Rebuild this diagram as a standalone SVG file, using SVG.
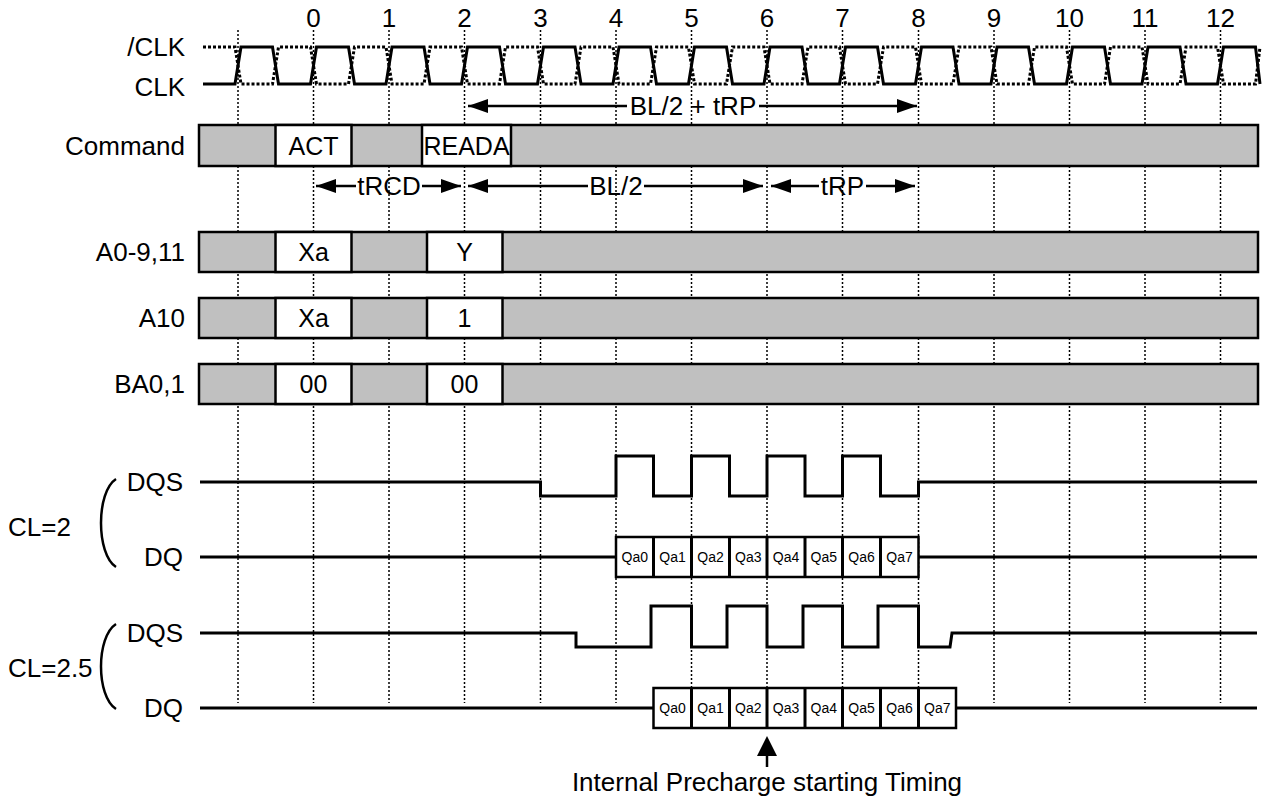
<svg xmlns="http://www.w3.org/2000/svg" width="1266" height="799" viewBox="0 0 1266 799">
<style>
text{font-family:"Liberation Sans",Arial,sans-serif;fill:#000}
.lbl{font-size:26px}
.bx{font-size:25px;text-anchor:middle}
.r{text-anchor:end}
.m{text-anchor:middle}
.q{font-size:14px;text-anchor:middle}
.grid{stroke:#000;stroke-width:1.5;stroke-dasharray:2 2;fill:none}
.wave{stroke:#000;stroke-width:3;fill:none;stroke-linejoin:miter}
.dot{stroke:#000;stroke-width:3;fill:none;stroke-dasharray:3 2}
.gray{fill:#c0c0c0;stroke:#000;stroke-width:2.5}
.wht{fill:#fff;stroke:#000;stroke-width:2.5}
.arr{stroke:#000;stroke-width:2.5;fill:none}
</style>
<defs>
<marker id="ah" viewBox="0 0 20 14" refX="20" refY="7" markerWidth="20" markerHeight="14" markerUnits="userSpaceOnUse" orient="auto-start-reverse"><path d="M0,0 L20,7 L0,14 z" fill="#000"/></marker>
</defs>
<g id="grid">
<path class="grid" d="M238,30V703 M313.5,30V703 M389,30V703 M464.5,30V703 M540.5,30V703 M616,30V703 M691.5,30V703 M767,30V703 M842.5,30V703 M918.5,30V703 M994,30V703 M1069.5,30V703 M1145,30V703 M1220.5,30V703"/>
</g>
<g id="cycle-numbers">
<text x="313.5" y="27" class="lbl m">0</text>
<text x="389" y="27" class="lbl m">1</text>
<text x="464.5" y="27" class="lbl m">2</text>
<text x="540.5" y="27" class="lbl m">3</text>
<text x="616" y="27" class="lbl m">4</text>
<text x="691.5" y="27" class="lbl m">5</text>
<text x="767" y="27" class="lbl m">6</text>
<text x="842.5" y="27" class="lbl m">7</text>
<text x="918.5" y="27" class="lbl m">8</text>
<text x="994" y="27" class="lbl m">9</text>
<text x="1069.5" y="27" class="lbl m">10</text>
<text x="1145" y="27" class="lbl m">11</text>
<text x="1220.5" y="27" class="lbl m">12</text>
</g>
<g id="clk">
<text x="185" y="56" class="lbl r">/CLK</text>
<text x="185" y="96" class="lbl r">CLK</text>
<path class="dot" d="M203,47 H235 L241,84 H272.5 L278.5,47 H310.5 L316.5,84 H348.5 L354.5,47 H386 L392,84 H424 L430,47 H461.5 L467.5,84 H499.5 L505.5,47 H537.5 L543.5,84 H575 L581,47 H613 L619,84 H650.5 L656.5,47 H688.5 L694.5,84 H726.5 L732.5,47 H764 L770,84 H802 L808,47 H839.5 L845.5,84 H877.5 L883.5,47 H915.5 L921.5,84 H953 L959,47 H991 L997,84 H1028.5 L1034.5,47 H1066.5 L1072.5,84 H1104.5 L1110.5,47 H1142 L1148,84 H1180 L1186,47 H1217.5 L1223.5,84 H1255.5 L1260,47"/>
<path class="wave" d="M203,84 H235 L241,47 H272.5 L278.5,84 H310.5 L316.5,47 H348.5 L354.5,84 H386 L392,47 H424 L430,84 H461.5 L467.5,47 H499.5 L505.5,84 H537.5 L543.5,47 H575 L581,84 H613 L619,47 H650.5 L656.5,84 H688.5 L694.5,47 H726.5 L732.5,84 H764 L770,47 H802 L808,84 H839.5 L845.5,47 H877.5 L883.5,84 H915.5 L921.5,47 H953 L959,84 H991 L997,47 H1028.5 L1034.5,84 H1066.5 L1072.5,47 H1104.5 L1110.5,84 H1142 L1148,47 H1180 L1186,84 H1217.5 L1223.5,47 H1255.5 L1260,84"/>
</g>
<g id="command">
<text x="185" y="155" class="lbl r">Command</text>
<rect class="gray" x="199" y="125" width="1059" height="41"/>
<rect class="wht" x="275.5" y="125" width="76" height="41"/>
<rect class="wht" x="422" y="125" width="89" height="41"/>
<text x="313.5" y="154.5" class="bx">ACT</text>
<text x="466.5" y="154.5" class="bx">READA</text>
</g>
<g id="a0-9-11">
<text x="185" y="261" class="lbl r">A0-9,11</text>
<rect class="gray" x="199" y="232" width="1059" height="40"/>
<rect class="wht" x="275.5" y="232" width="76" height="40"/>
<rect class="wht" x="427" y="232" width="75.5" height="40"/>
<text x="313.5" y="261" class="bx">Xa</text>
<text x="464.5" y="261" class="bx">Y</text>
</g>
<g id="a10">
<text x="185" y="327" class="lbl r">A10</text>
<rect class="gray" x="199" y="298" width="1059" height="40"/>
<rect class="wht" x="275.5" y="298" width="76" height="40"/>
<rect class="wht" x="427" y="298" width="75.5" height="40"/>
<text x="313.5" y="327" class="bx">Xa</text>
<text x="464.5" y="327" class="bx">1</text>
</g>
<g id="ba0-1">
<text x="185" y="393" class="lbl r">BA0,1</text>
<rect class="gray" x="199" y="364" width="1059" height="40"/>
<rect class="wht" x="275.5" y="364" width="76" height="40"/>
<rect class="wht" x="427" y="364" width="75.5" height="40"/>
<text x="313.5" y="393" class="bx">00</text>
<text x="464.5" y="393" class="bx">00</text>
</g>
<g id="cl2">
<text x="8" y="536" class="lbl">CL=2</text>
<path d="M116,479 C96,492 96,554 116,567" stroke="#000" stroke-width="2.5" fill="none"/>
<text x="183" y="491" class="lbl r">DQS</text>
<text x="183" y="566" class="lbl r">DQ</text>
<path class="wave" d="M200,482 H540.5 V496 H616 V456 H653.5 V496 H691.5 V456 H729.5 V496 H767 V456 H805 V496 H842.5 V456 H880.5 V496 H918.5 V482 H1257"/>
<path class="wave" d="M200,557 H616 M918.5,557 H1257"/>
<rect class="wht" x="616" y="537" width="302.5" height="40"/>
<path class="wave" d="M653.5,537V577 M691.5,537V577 M729.5,537V577 M767,537V577 M805,537V577 M842.5,537V577 M880.5,537V577"/>
<text x="634.75" y="562" class="q">Qa0</text>
<text x="672.5" y="562" class="q">Qa1</text>
<text x="710.5" y="562" class="q">Qa2</text>
<text x="748.25" y="562" class="q">Qa3</text>
<text x="786" y="562" class="q">Qa4</text>
<text x="823.75" y="562" class="q">Qa5</text>
<text x="861.5" y="562" class="q">Qa6</text>
<text x="899.5" y="562" class="q">Qa7</text>
</g>
<g id="cl25">
<text x="8" y="677" class="lbl">CL=2.5</text>
<path d="M116,624 C96,637 96,696 116,709" stroke="#000" stroke-width="2.5" fill="none"/>
<text x="183" y="642" class="lbl r">DQS</text>
<text x="183" y="717" class="lbl r">DQ</text>
<path class="wave" d="M200,633 H576 V647 H651 V606 H691.5 V647 H727 V606 H767 V647 H803 V606 H842.5 V647 H878 V606 H918.5 V647 H950 L952,633 H1257"/>
<path class="wave" d="M200,708 H653.5 M956,708 H1257"/>
<rect class="wht" x="653.5" y="688" width="302.5" height="40"/>
<path class="wave" d="M691.5,688V728 M729.5,688V728 M767,688V728 M805,688V728 M842.5,688V728 M880.5,688V728 M918.5,688V728"/>
<text x="672.5" y="713" class="q">Qa0</text>
<text x="710.5" y="713" class="q">Qa1</text>
<text x="748.25" y="713" class="q">Qa2</text>
<text x="786" y="713" class="q">Qa3</text>
<text x="823.75" y="713" class="q">Qa4</text>
<text x="861.5" y="713" class="q">Qa5</text>
<text x="899.5" y="713" class="q">Qa6</text>
<text x="937.25" y="713" class="q">Qa7</text>
</g>
<g id="connectors">
<path class="arr" d="M627,106 H468" marker-end="url(#ah)"/>
<path class="arr" d="M759,106 H917" marker-end="url(#ah)"/>
<path class="arr" d="M356,186 H316" marker-end="url(#ah)"/>
<path class="arr" d="M422,186 H461" marker-end="url(#ah)"/>
<path class="arr" d="M588,186 H468" marker-end="url(#ah)"/>
<path class="arr" d="M644,186 H763" marker-end="url(#ah)"/>
<path class="arr" d="M819,186 H771" marker-end="url(#ah)"/>
<path class="arr" d="M866,186 H915" marker-end="url(#ah)"/>
<path class="arr" d="M767,767 V756" stroke-width="3"/>
<path d="M767,736 L757,756 L777,756 z" fill="#000"/>
</g>
<g id="arrow-labels">
<text x="693" y="115" class="lbl m">BL/2 + tRP</text>
<text x="389" y="195" class="lbl m">tRCD</text>
<text x="616" y="195" class="lbl m">BL/2</text>
<text x="842.5" y="195" class="lbl m">tRP</text>
<text x="767" y="791" class="lbl m">Internal Precharge starting Timing</text>
</g>
</svg>
